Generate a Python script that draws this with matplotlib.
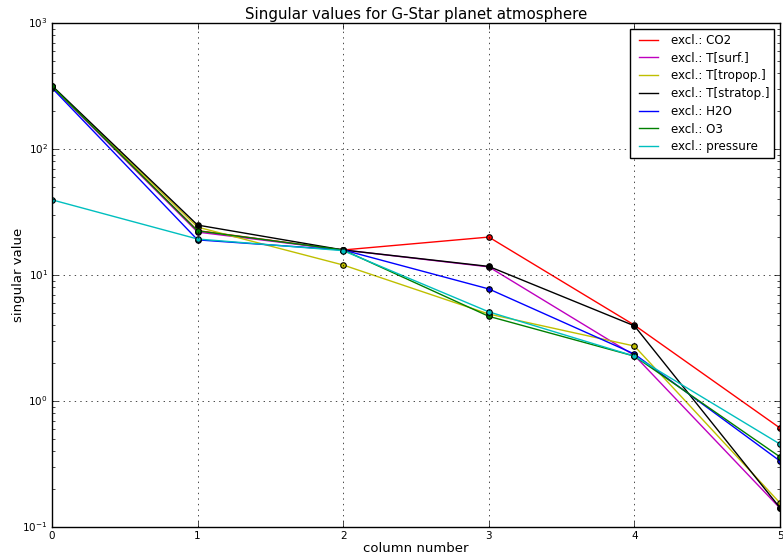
import matplotlib
matplotlib.use('Agg')
import matplotlib.pyplot as plt

plt.style.use('classic')

columns = [0, 1, 2, 3, 4, 5]

labels = ['excl.: CO2', 'excl.: T[surf.]', 'excl.: T[tropop.]', 'excl.: T[stratop.]',
          'excl.: H2O', 'excl.: O3', 'excl.: pressure']
colors = ['r', 'm', 'y', 'k', 'b', 'g', 'c']

sv_co2 = [312, 22.5, 15.8, 20.0, 4.0, 0.61]
sv_tsurf = [312, 21.9, 15.8, 11.6, 2.3, 0.141]
sv_ttropop = [312, 24.0, 12.0, 4.9, 2.73, 0.155]
sv_tstratop = [318, 24.9, 15.8, 11.7, 3.95, 0.142]
sv_h2o = [305, 19.0, 15.8, 7.75, 2.36, 0.334]
sv_o3 = [315, 22.4, 15.8, 4.7, 2.27, 0.36]
sv_pressure = [39.5, 19.3, 15.6, 5.1, 2.27, 0.455]

series = [sv_co2, sv_tsurf, sv_ttropop, sv_tstratop, sv_h2o, sv_o3, sv_pressure]

fig = plt.figure(figsize=(7.83, 5.55), dpi=100, facecolor='white')
ax = fig.add_axes([52 / 783, 28 / 555, 728 / 783, 504 / 555])

for vals, lab, col in zip(series, labels, colors):
    ax.plot(columns, vals, color=col, label=lab, lw=1)
    ax.plot(columns, vals, 'o', color=col, mec='k', ms=4, mew=0.8)

ax.set_yscale('log')
ax.set_ylim(0.1, 1000)
ax.set_xlim(0, 5)
ax.tick_params(labelsize=7.5, pad=3)
ax.set_xlabel('column number', fontsize=9.5)
ax.set_ylabel('singular value', fontsize=9.5)
ax.xaxis.set_label_coords(0.5, -0.030)
ax.yaxis.set_label_coords(-0.037, 0.5)
ax.set_title('Singular values for G-Star planet atmosphere', fontsize=10.8, y=1.0, pad=3)
ax.grid(True)
ax.legend(loc='upper right', fontsize=8.6, handlelength=2.2, labelspacing=0.4)

fig.savefig('out.png', dpi=100, facecolor='white')
